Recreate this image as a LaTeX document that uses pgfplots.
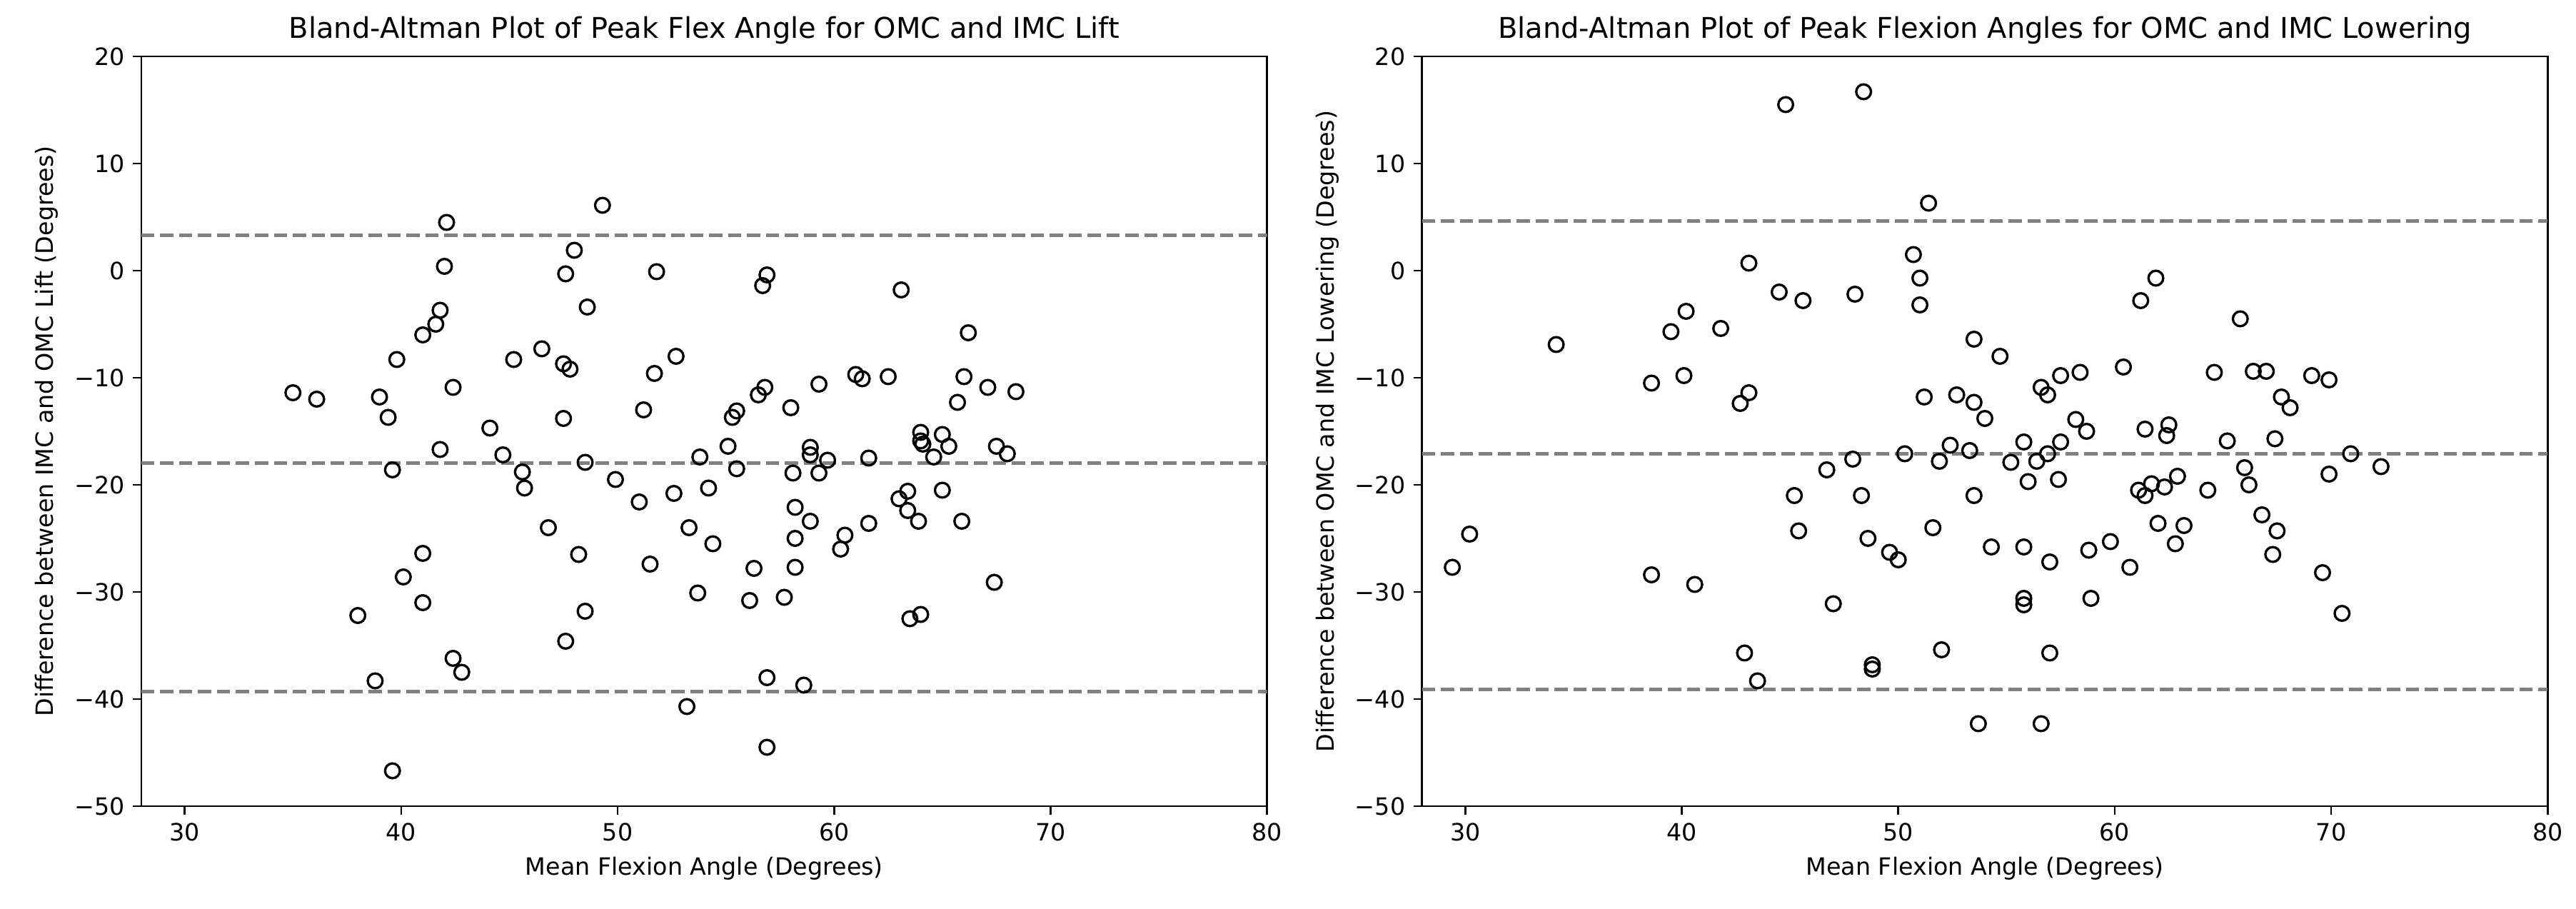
\documentclass[border=0pt]{standalone}
\usepackage{fontspec}
\setmainfont{DejaVu Sans}
\usepackage{pgfplots}
\pgfplotsset{compat=1.18}

\pgfplotsset{
  ba/.style={
    scale only axis, width=473pt, height=315pt, anchor=south west,
    xmin=28, xmax=80, ymin=-50, ymax=20,
    xtick={30,40,50,60,70,80}, xticklabels={30,40,50,60,70,80},
    ytick={-50,-40,-30,-20,-10,0,10,20},
    yticklabels={−50,−40,−30,−20,−10,0,10,20},
    tick align=outside, xtick pos=left, ytick pos=left,
    major tick length=3.5pt,
    tick style={black, line width=0.8pt},
    axis line style={line width=0.8pt},
    ticklabel style={font=\fontsize{10}{12}\selectfont},
    label style={font=\fontsize{10}{12}\selectfont},
    title style={font=\fontsize{12}{14}\selectfont, yshift=-4.5pt},
    xlabel={Mean Flexion Angle (Degrees)},
  },
  pts/.style={only marks, mark=o, mark size=3.1pt, mark options={line width=1pt, black}},
  loa/.style={gray, line width=1.5pt, dash pattern=on 5.55pt off 2.4pt, forget plot},
}

\begin{document}
\begin{tikzpicture}
\path[use as bounding box] (0,0) rectangle (1082.4pt,381.9pt);

% left: lift
\begin{axis}[ba, at={(59.4pt,43.2pt)},
  title={Bland-Altman Plot of Peak Flex Angle for OMC and IMC Lift},
  ylabel={Difference between IMC and OMC Lift (Degrees)}]
\addplot[pts] table {
x y
49.3 6.1
42.1 4.5
48.0 1.9
42.0 0.4
47.6 -0.3
48.6 -3.4
41.8 -3.7
41.6 -5.0
41.0 -6.0
39.8 -8.3
45.2 -8.3
46.5 -7.3
47.5 -8.7
47.8 -9.2
35.0 -11.4
36.1 -12.0
39.0 -11.8
39.4 -13.7
42.4 -10.9
44.1 -14.7
47.5 -13.8
41.8 -16.7
44.7 -17.2
48.5 -17.9
39.6 -18.6
45.6 -18.8
45.7 -20.3
51.8 -0.1
56.9 -0.4
56.7 -1.4
63.1 -1.8
52.7 -8.0
51.7 -9.6
51.2 -13.0
56.8 -10.9
56.5 -11.6
58.0 -12.8
59.3 -10.6
61.0 -9.7
61.3 -10.1
62.5 -9.9
55.5 -13.1
55.3 -13.7
55.1 -16.4
53.8 -17.4
55.5 -18.5
58.9 -16.5
58.9 -17.2
59.7 -17.7
58.1 -18.9
59.3 -18.9
61.6 -17.5
49.9 -19.5
51.0 -21.6
52.6 -20.8
54.2 -20.3
66.2 -5.8
66.0 -9.9
67.1 -10.9
68.4 -11.3
65.7 -12.3
64.0 -15.1
64.0 -15.9
64.1 -16.2
65.0 -15.3
65.3 -16.4
64.6 -17.4
67.5 -16.4
68.0 -17.1
63.4 -20.6
65.0 -20.5
46.8 -24.0
48.2 -26.5
41.0 -26.4
40.1 -28.6
41.0 -31.0
38.0 -32.2
48.5 -31.8
47.6 -34.6
42.4 -36.2
42.8 -37.5
38.8 -38.3
39.6 -46.7
53.3 -24.0
54.4 -25.5
51.5 -27.4
58.2 -22.1
58.9 -23.4
58.2 -25.0
56.3 -27.8
58.2 -27.7
60.5 -24.7
60.3 -26.0
61.6 -23.6
63.0 -21.3
63.4 -22.4
53.7 -30.1
56.1 -30.8
57.7 -30.5
63.5 -32.5
56.9 -38.0
58.6 -38.7
53.2 -40.7
56.9 -44.5
63.9 -23.4
65.9 -23.4
67.4 -29.1
64.0 -32.1
};
\addplot[loa] coordinates {(28,3.3) (80,3.3)};
\addplot[loa] coordinates {(28,-18.0) (80,-18.0)};
\addplot[loa] coordinates {(28,-39.3) (80,-39.3)};
\end{axis}

% right: lowering
\begin{axis}[ba, at={(597.5pt,43.2pt)},
  title={Bland-Altman Plot of Peak Flexion Angles for OMC and IMC Lowering},
  ylabel={Difference between OMC and IMC Lowering (Degrees)}]
\addplot[pts] table {
x y
34.2 -6.9
40.2 -3.8
39.5 -5.7
41.8 -5.4
38.6 -10.5
40.1 -9.8
42.7 -12.4
44.8 15.5
48.4 16.7
51.4 6.3
43.1 0.7
50.7 1.5
51.0 -0.7
51.0 -3.2
44.5 -2.0
45.6 -2.8
48.0 -2.2
53.5 -6.4
54.7 -8.0
43.1 -11.4
51.2 -11.8
52.7 -11.6
53.5 -12.3
54.0 -13.8
56.6 -10.9
56.9 -11.6
57.5 -9.8
52.4 -16.3
53.3 -16.8
55.8 -16.0
57.5 -16.0
61.9 -0.7
61.2 -2.8
65.8 -4.5
58.4 -9.5
60.4 -9.0
64.6 -9.5
66.4 -9.4
67.0 -9.4
69.1 -9.8
69.9 -10.2
67.7 -11.8
68.1 -12.8
58.2 -13.9
58.7 -15.0
61.4 -14.8
62.5 -14.4
62.4 -15.4
65.2 -15.9
67.4 -15.7
30.2 -24.6
29.4 -27.7
38.6 -28.4
40.6 -29.3
50.3 -17.1
47.9 -17.6
46.7 -18.6
51.9 -17.8
55.2 -17.9
56.4 -17.8
56.9 -17.1
56.0 -19.7
57.4 -19.5
45.2 -21.0
48.3 -21.0
53.5 -21.0
45.4 -24.3
48.6 -25.0
51.6 -24.0
49.6 -26.3
50.0 -27.0
54.3 -25.8
55.8 -25.8
57.0 -27.2
47.0 -31.1
55.8 -30.6
55.8 -31.2
42.9 -35.7
43.5 -38.3
48.8 -36.8
48.8 -37.2
52.0 -35.4
57.0 -35.7
53.7 -42.3
56.6 -42.3
70.9 -17.1
72.3 -18.3
69.9 -19.0
61.1 -20.5
61.7 -19.9
61.4 -21.0
62.3 -20.2
62.9 -19.2
64.3 -20.5
66.0 -18.4
66.2 -20.0
66.8 -22.8
67.5 -24.3
67.3 -26.5
69.6 -28.2
70.5 -32.0
62.0 -23.6
63.2 -23.8
62.8 -25.5
59.8 -25.3
58.8 -26.1
60.7 -27.7
58.9 -30.6
};
\addplot[loa] coordinates {(28,4.6) (80,4.6)};
\addplot[loa] coordinates {(28,-17.1) (80,-17.1)};
\addplot[loa] coordinates {(28,-39.1) (80,-39.1)};
\end{axis}
\end{tikzpicture}
\end{document}
